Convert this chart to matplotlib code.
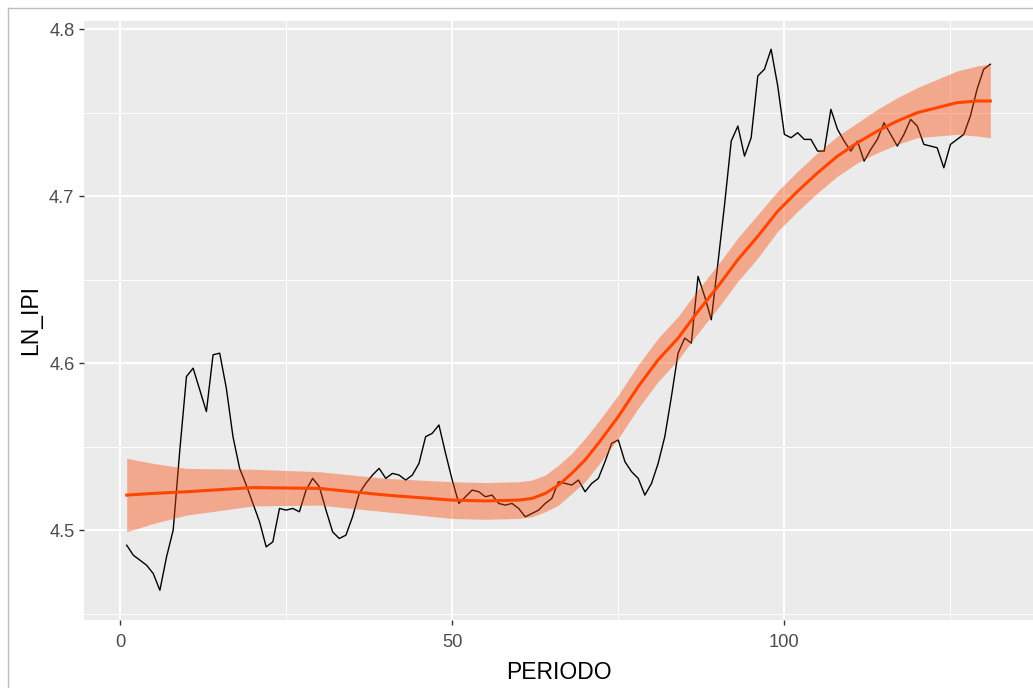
import matplotlib
matplotlib.use('Agg')
import matplotlib.pyplot as plt
import numpy as np
from matplotlib.lines import Line2D

plt.rcParams['font.family'] = ['Liberation Sans', 'DejaVu Sans']

# serie observada (PERIODO 1..131)
periodo = np.arange(1, 132)
ln_ipi = [4.491, 4.485, 4.482, 4.479, 4.474, 4.464, 4.484, 4.500, 4.548, 4.592,
          4.597, 4.584, 4.571, 4.605, 4.606, 4.585, 4.556, 4.537, 4.527, 4.516,
          4.505, 4.490, 4.493, 4.513, 4.512, 4.513, 4.511, 4.524, 4.531, 4.526,
          4.512, 4.499, 4.495, 4.497, 4.508, 4.522, 4.528, 4.533, 4.537, 4.531,
          4.534, 4.533, 4.530, 4.533, 4.540, 4.556, 4.558, 4.563, 4.546, 4.530,
          4.516, 4.520, 4.524, 4.523, 4.520, 4.521, 4.516, 4.515, 4.516, 4.513,
          4.508, 4.510, 4.512, 4.516, 4.519, 4.529, 4.528, 4.527, 4.530, 4.523,
          4.528, 4.531, 4.541, 4.552, 4.554, 4.541, 4.535, 4.531, 4.521, 4.528,
          4.540, 4.556, 4.580, 4.606, 4.615, 4.612, 4.652, 4.640, 4.626, 4.660,
          4.695, 4.733, 4.742, 4.724, 4.735, 4.772, 4.776, 4.788, 4.766, 4.737,
          4.735, 4.738, 4.734, 4.734, 4.727, 4.727, 4.752, 4.740, 4.733, 4.727,
          4.733, 4.721, 4.728, 4.734, 4.744, 4.737, 4.730, 4.737, 4.746, 4.742,
          4.731, 4.730, 4.729, 4.717, 4.731, 4.734, 4.737, 4.748, 4.764, 4.776,
          4.779]

# curva suavizada y su banda
smooth_t = [1, 5, 10, 20, 30, 40, 50, 55, 60, 62, 64, 66, 68, 70, 72, 75, 78, 81,
            84, 87, 90, 93, 96, 99, 102, 105, 108, 111, 114, 117, 120, 123, 126,
            129, 131]
smooth_fit = [4.521, 4.522, 4.523, 4.5255, 4.525, 4.521, 4.518, 4.5175, 4.518,
              4.519, 4.522, 4.527, 4.534, 4.542, 4.552, 4.568, 4.586, 4.602,
              4.615, 4.631, 4.646, 4.662, 4.676, 4.691, 4.703, 4.714, 4.724,
              4.732, 4.739, 4.745, 4.750, 4.753, 4.756, 4.757, 4.757]
smooth_half = [0.022, 0.018, 0.014, 0.011, 0.010, 0.010, 0.011, 0.011, 0.011,
               0.011, 0.011, 0.012, 0.012, 0.013, 0.013, 0.013, 0.013, 0.013,
               0.013, 0.013, 0.013, 0.013, 0.013, 0.012, 0.012, 0.012, 0.012,
               0.012, 0.013, 0.014, 0.015, 0.017, 0.019, 0.021, 0.022]

fit = np.array(smooth_fit)
half = np.array(smooth_half)

fig = plt.figure(figsize=(10.33, 6.88), dpi=100)
ax = fig.add_axes([83.5/1033, 1 - 619.5/688, 950/1033, 599/688])
ax.set_facecolor('#EBEBEB')

ax.plot(periodo, ln_ipi, color='black', lw=1.0, zorder=3)
ax.fill_between(smooth_t, fit - half, fit + half, color='orangered', alpha=0.4,
                lw=0, zorder=4)
ax.plot(smooth_t, fit, color='orangered', lw=2.2, zorder=5)

ax.set_xlim(-5.5, 137.5)
ax.set_ylim(4.4465, 4.8052)
ax.set_xticks([0, 50, 100])
ax.set_xticks([25, 75, 125], minor=True)
ax.set_yticks([4.5, 4.6, 4.7, 4.8])
ax.set_yticklabels(['4.5', '4.6', '4.7', '4.8'])
ax.set_yticks([4.45, 4.55, 4.65, 4.75], minor=True)
ax.grid(which='major', color='white', lw=1.4, zorder=0)
ax.grid(which='minor', color='white', lw=0.7, zorder=0)
ax.set_axisbelow(True)
for s in ax.spines.values():
    s.set_visible(False)
ax.tick_params(which='major', length=3.5, width=1, color='#333333',
               labelcolor='#4D4D4D', labelsize=13.2, pad=3)
ax.tick_params(axis='x', which='major', pad=7)
ax.tick_params(which='minor', length=0)

ax.set_xlabel('PERIODO', fontsize=16.5, labelpad=7)
ax.set_ylabel('LN_IPI', fontsize=16.5, labelpad=5)

# marco de la captura
fig.add_artist(Line2D([7.5/1033, 7.5/1033], [0, 1 - 8/688],
                      transform=fig.transFigure, color='#BDBDBD', lw=1))
fig.add_artist(Line2D([7.5/1033, 1], [1 - 8/688, 1 - 8/688],
                      transform=fig.transFigure, color='#BDBDBD', lw=1))

fig.savefig('out.png', dpi=100)
